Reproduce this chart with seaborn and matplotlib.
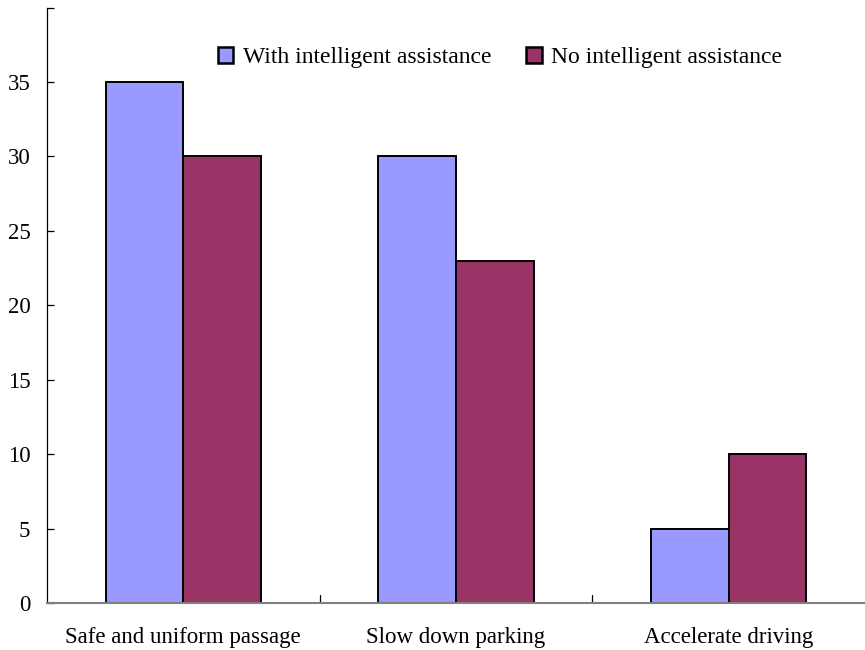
import matplotlib
matplotlib.use("Agg")
import matplotlib.pyplot as plt
import seaborn as sns
import pandas as pd

categories = ["Safe and uniform passage", "Slow down parking", "Accelerate driving"]
series_names = ["With intelligent assistance", "No intelligent assistance"]
with_assist = [35, 30, 5]
no_assist = [30, 23, 10]
colors = ["#9999FF", "#993366"]

df = pd.DataFrame({
    "category": categories * 2,
    "series": [series_names[0]] * 3 + [series_names[1]] * 3,
    "value": with_assist + no_assist,
})

sns.set_theme(style="white")
plt.rcParams["font.family"] = ["Liberation Serif", "DejaVu Serif"]
plt.rcParams["text.color"] = "black"
plt.rcParams["xtick.color"] = "black"
plt.rcParams["ytick.color"] = "black"

fig = plt.figure(figsize=(8.65, 6.5), dpi=100)
ax = fig.add_axes([0.0543, 0.0723, 0.9457, 0.9160])

sns.barplot(data=df, x="category", y="value", hue="series", order=categories,
            hue_order=series_names, palette=colors, width=0.57,
            edgecolor="black", linewidth=1.4, saturation=1, ax=ax, legend=True)

ax.set_ylim(0, 40)
ax.set_xlim(-0.5, 2.5)
ax.set_yticks(range(0, 41, 5))
ax.set_yticklabels([str(v) if v < 40 else "" for v in range(0, 41, 5)])
ax.set_xlabel("")
ax.set_ylabel("")

ax.spines["top"].set_visible(False)
ax.spines["right"].set_visible(False)
ax.spines["left"].set_color("black")
ax.spines["left"].set_linewidth(0.9)
ax.spines["bottom"].set_color("#808080")
ax.spines["bottom"].set_linewidth(1.5)

ax.tick_params(axis="y", direction="in", length=5, width=0.9, color="black",
               pad=12, labelsize=16.5, left=True, labelcolor="black")
ax.set_xticks([0, 1, 2])
ax.tick_params(axis="x", length=0, pad=17.5, labelsize=16.5, labelcolor="black")
for xb in [0.5, 1.5]:
    ax.plot([xb, xb], [0, 0.55], color="black", lw=0.9, clip_on=False)

handles, labels = ax.get_legend_handles_labels()
leg = ax.legend(handles, labels, loc="center", bbox_to_anchor=(0.578, 0.911),
                bbox_transform=fig.transFigure, ncol=2, frameon=False,
                fontsize=17, handlelength=0.65, handleheight=0.65,
                handletextpad=0.4, columnspacing=1.5)
for t in leg.get_texts():
    t.set_color("black")
for h in leg.legend_handles:
    h.set_linewidth(1.8)

fig.savefig("out.png", dpi=100)
